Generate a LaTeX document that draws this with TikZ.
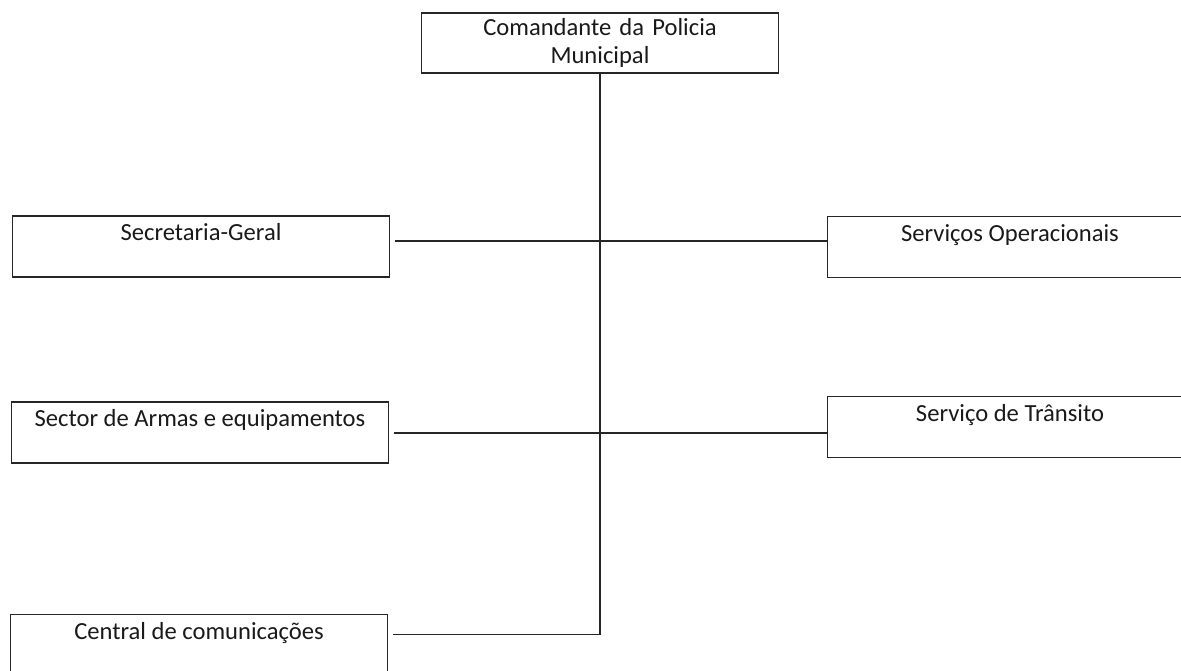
\documentclass[tikz,border=0pt]{standalone}
\usepackage{fontspec}
\setmainfont{Carlito}
\begin{document}
\begin{tikzpicture}[x=0.02cm,y=-0.02cm,
  unit/.style={draw=black!85, line width=0.6pt, inner sep=0pt, text height=0.5cm, text depth=0.72cm, minimum width=7.56cm, font=\fontsize{14}{16}\selectfont, text=black!90},
  runit/.style={unit, minimum width=7.32cm},
  link/.style={draw=black!85, line width=0.6pt}]
\useasboundingbox (0,0) rectangle (1181,671);
\node[draw=black!85, line width=0.6pt, inner sep=0pt, minimum width=7.16cm, minimum height=1.2cm, text width=7cm, align=center, font=\fontsize{14}{16}\selectfont, text=black!90] (cpm) at (600,43){Comandante da Policia\\Municipal};
\node[unit] (sg) at (201,246.5){Secretaria-Geral};
\node[unit] (sae) at (200,432.5){Sector de Armas e equipamentos};
\node[unit] (cc) at (199,645){Central de comunicações};
\node[runit] (so) at (1010,247){Serviços Operacionais};
\node[runit] (st) at (1010,427){Serviço de Trânsito};
\draw[link]([xshift=0.1cm]sg.base east) -- (sg.base -| so.west);
\draw[link]([xshift=0.1cm,yshift=-0.12cm]sae.base east) -- ([yshift=-0.12cm]sae.base -| st.west);
\draw[link](cpm.south) |- ([xshift=0.1cm,yshift=0.1cm]cc.base east);
\end{tikzpicture}
\end{document}
